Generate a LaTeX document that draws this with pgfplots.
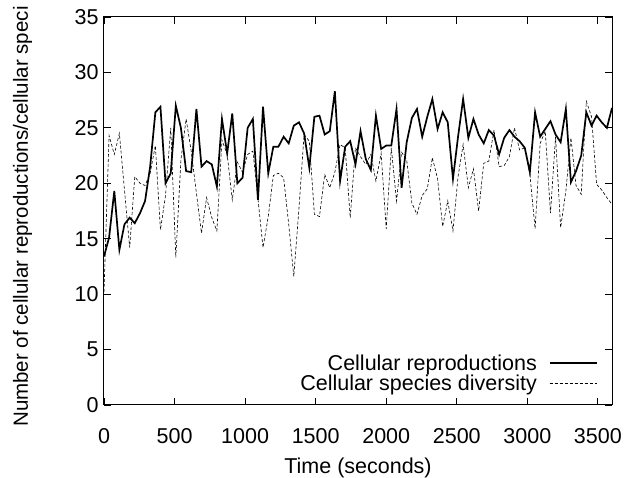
\documentclass[border=0pt]{standalone}
\usepackage{fontspec}
\setmainfont{Liberation Sans}
\usepackage{pgfplots}
\usepackage{pgfplotstable}
\pgfplotsset{compat=1.18}
\pgfplotstableread{
t r d
0 13.4 10.2
36 15.1 24.3
73 19.3 22.6
109 14.0 24.5
145 16.3 19.4
182 16.9 14.2
218 16.4 20.6
255 17.3 20.0
291 18.4 19.8
327 21.5 20.9
364 26.4 23.4
400 26.9 15.8
436 20.0 18.9
473 20.9 25.0
509 27.0 13.3
545 25.0 22.1
582 21.1 25.8
618 21.0 22.9
655 26.7 19.1
691 21.5 15.5
727 22.0 18.7
764 21.7 16.9
800 19.7 15.7
836 25.8 23.9
873 22.7 22.6
909 26.3 18.5
945 20.0 21.9
982 20.5 21.0
1018 25.0 22.6
1055 25.8 22.9
1091 18.5 18.6
1127 26.9 14.2
1164 20.9 17.0
1200 23.3 20.7
1236 23.3 20.9
1273 24.2 20.5
1309 23.6 16.3
1345 25.2 11.6
1382 25.5 17.8
1418 24.5 24.4
1455 21.4 23.8
1491 26.0 17.2
1527 26.1 17.0
1564 24.4 20.8
1600 24.7 19.6
1636 28.3 21.0
1673 20.2 23.5
1709 23.3 23.2
1745 23.8 16.9
1782 21.7 23.2
1818 24.7 22.4
1855 22.2 21.7
1891 21.2 22.6
1927 26.1 20.2
1964 23.1 22.7
2000 23.4 15.9
2036 23.4 23.2
2073 26.7 18.4
2109 19.6 22.8
2145 23.7 22.1
2182 25.9 18.2
2218 26.7 17.2
2255 24.2 18.9
2291 26.0 19.5
2327 27.6 22.3
2364 24.9 20.4
2400 26.4 16.1
2436 25.5 18.4
2473 20.4 15.7
2509 24.2 20.6
2545 27.6 23.5
2582 24.1 19.6
2618 25.8 21.3
2655 24.4 17.5
2691 23.6 21.8
2727 24.8 22.0
2764 24.3 24.8
2800 22.6 21.5
2836 24.1 21.6
2873 24.8 22.4
2909 24.2 25.0
2945 23.8 23.0
2982 23.2 23.2
3018 21.0 20.8
3055 26.4 15.9
3091 24.2 23.6
3127 24.9 24.7
3164 25.6 17.3
3200 24.4 24.2
3236 23.7 16.0
3273 26.7 19.3
3309 20.1 24.1
3345 21.1 19.8
3382 22.5 19.0
3418 26.4 27.4
3455 25.2 26.0
3491 26.1 19.9
3527 25.5 19.4
3564 25.0 18.7
3600 26.8 18.1
}\datatable
\begin{document}
\begin{tikzpicture}
\begin{axis}[
  scale only axis, width=508pt, height=388pt,
  xmin=0, xmax=3600, ymin=0, ymax=35,
  xtick={0,500,...,3500}, ytick={0,5,...,35},
  tick align=inside, major tick length=7pt,
  minor tick num=0,
  /pgf/number format/assume math mode=true,
  /pgf/number format/1000 sep={},
  tick label style={font=\fontsize{21.5}{25}\selectfont, black},
  xticklabel style={yshift=-20pt},
  yticklabel style={xshift=-2pt},
  every tick/.style={black, line width=0.8pt},
  axis line style={black, line width=1pt},
  xlabel={Time (seconds)},
  xlabel style={font=\fontsize{21.5}{25}\selectfont, yshift=-7pt},
  legend style={draw=none, fill=none, at={(0.972,0.028)}, anchor=south east,
    font=\fontsize{21.5}{25}\selectfont, row sep=-1pt, inner sep=0pt,
    column sep=10pt},
  legend cell align=right, legend plot pos=right,
  legend image code/.code={\draw[#1] (0pt,0pt) -- (47pt,0pt);},
]
\addplot[black, line width=1.7pt, line join=miter] table[x=t, y=r] {\datatable};
\addlegendentry{Cellular reproductions}
\addplot[black, line width=0.6pt, dash pattern=on 3pt off 2pt] table[x=t, y=d] {\datatable};
\addlegendentry{Cellular species diversity}
\end{axis}
\node[rotate=90, anchor=base west, inner sep=0pt, font=\fontsize{20.5}{24}\selectfont] at (-76pt,-22pt) {Number of cellular reproductions/cellular speci};
\pgfresetboundingbox
\path[use as bounding box] (-104pt,-73pt) rectangle (523pt,405pt);
\end{tikzpicture}
\end{document}
